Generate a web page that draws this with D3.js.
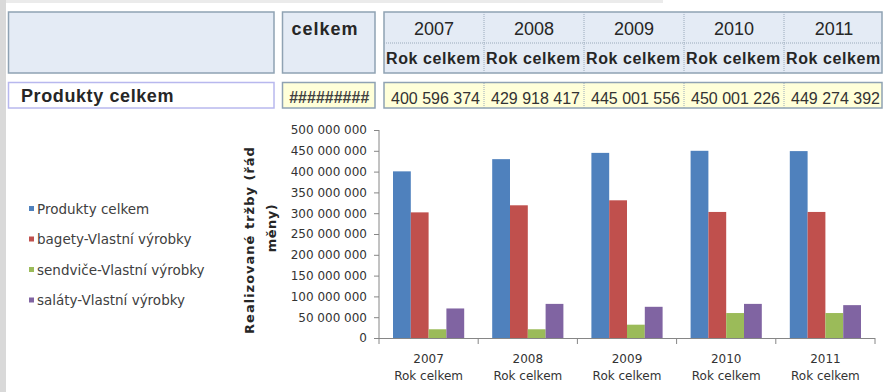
<!DOCTYPE html>
<html>
<head>
<meta charset="utf-8">
<script src="https://cdn.jsdelivr.net/npm/d3@7"></script>
<style>
  body { margin: 0; background: #fff; }
  svg { display: block; }
</style>
</head>
<body>
<div id="chart"></div>
<script>
// values
const years = ["2007", "2008", "2009", "2010", "2011"];
const rowLabel = "Rok celkem";
const seriesNames = ["Produkty celkem", "bagety-Vlastní výrobky", "sendviče-Vlastní výrobky", "saláty-Vlastní výrobky"];
const produkty = [400596374, 429918417, 445001556, 450001226, 449274392];
const bagety = [302000000, 319000000, 331000000, 303000000, 303000000];
const sendvice = [21000000, 21000000, 32000000, 60000000, 60000000];
const salaty = [71000000, 82000000, 75000000, 82000000, 79000000];
const tableValues = ["400 596 374", "429 918 417", "445 001 556", "450 001 226", "449 274 392"];
const colors = ["#4f81bd", "#c0504d", "#9bbb59", "#8064a2"];

const W = 883, H = 392;
const series = [produkty, bagety, sendvice, salaty];

const svg = d3.select("#chart").append("svg")
    .attr("width", W)
    .attr("height", H);

// sheet background strips
svg.append("rect").attr("x", 0).attr("y", 0).attr("width", 6).attr("height", H).attr("fill", "#d9d9d9");
svg.append("rect").attr("x", 6).attr("y", 0).attr("width", 657).attr("height", 3).attr("fill", "#ebebeb");

// ---- pivot table header ----
const tFont = "'Liberation Sans', Arial, sans-serif";
const border = "#8fa2b3";

svg.append("rect").attr("x", 8.5).attr("y", 12).attr("width", 265.5).attr("height", 61)
    .attr("fill", "#e4ebf5").attr("stroke", border).attr("stroke-width", 1.5);
svg.append("rect").attr("x", 282.5).attr("y", 12).attr("width", 92.5).attr("height", 61)
    .attr("fill", "#e4ebf5").attr("stroke", border).attr("stroke-width", 1.5);
svg.append("text").attr("x", 325).attr("y", 35).attr("text-anchor", "middle")
    .attr("font-family", tFont).attr("font-size", 18).attr("font-weight", "bold")
    .attr("letter-spacing", 1).attr("fill", "#262626").text("celkem");

const colX = d3.scaleBand().domain(years).range([384, 884]);

svg.append("rect").attr("x", 384).attr("y", 12).attr("width", 498).attr("height", 61)
    .attr("fill", "#e4ebf5").attr("stroke", border).attr("stroke-width", 1.5);
svg.append("line").attr("x1", 384).attr("x2", 882).attr("y1", 43).attr("y2", 43)
    .attr("stroke", "#9aaabb").attr("stroke-dasharray", "1,1");

const head = svg.append("g").selectAll("g").data(years).join("g");
head.filter((d, i) => i > 0).append("line")
    .attr("x1", d => colX(d)).attr("x2", d => colX(d))
    .attr("y1", 12).attr("y2", 73)
    .attr("stroke", "#9aaabb").attr("stroke-dasharray", "1,1");
head.append("text")
    .attr("x", d => colX(d) + colX.bandwidth() / 2)
    .attr("y", 35).attr("text-anchor", "middle")
    .attr("font-family", tFont).attr("font-size", 18).attr("fill", "#262626")
    .text(d => d);
head.append("text")
    .attr("x", d => colX(d) + 2)
    .attr("y", 64)
    .attr("font-family", tFont).attr("font-size", 16).attr("font-weight", "bold")
    .attr("letter-spacing", 0.6).attr("fill", "#262626")
    .text(rowLabel);

// ---- table value row ----
svg.append("rect").attr("x", 8.5).attr("y", 82.5).attr("width", 265.5).attr("height", 25.5)
    .attr("fill", "#fff").attr("stroke", "#b8b8ee").attr("stroke-width", 1.5);
svg.append("text").attr("x", 21).attr("y", 101.5)
    .attr("font-family", tFont).attr("font-size", 18).attr("font-weight", "bold")
    .attr("letter-spacing", 0.6).attr("fill", "#262626").text(seriesNames[0]);

svg.append("rect").attr("x", 282.5).attr("y", 82.5).attr("width", 92.5).attr("height", 25.5)
    .attr("fill", "#ffffd9").attr("stroke", border).attr("stroke-width", 1.5);
svg.append("text").attr("x", 329).attr("y", 103).attr("text-anchor", "middle")
    .attr("font-family", tFont).attr("font-size", 16).attr("font-weight", "bold")
    .attr("font-style", "italic").attr("fill", "#404040").text("#########");

svg.append("rect").attr("x", 384).attr("y", 82.5).attr("width", 498).attr("height", 25.5)
    .attr("fill", "#ffffd9").attr("stroke", border).attr("stroke-width", 1.5);
const vals = svg.append("g").selectAll("g").data(years).join("g");
vals.filter((d, i) => i > 0).append("line")
    .attr("x1", d => colX(d)).attr("x2", d => colX(d))
    .attr("y1", 83).attr("y2", 108)
    .attr("stroke", "#9aaabb").attr("stroke-dasharray", "1,1");
vals.append("text")
    .attr("x", (d) => colX(d) + colX.bandwidth() - 4)
    .attr("y", 103.5).attr("text-anchor", "end")
    .attr("font-family", tFont).attr("font-size", 16).attr("fill", "#333")
    .text((d, i) => tableValues[i]);

// ---- chart ----
const cFont = "'DejaVu Sans', sans-serif";
const x0 = d3.scaleBand().domain(years).range([379, 875]);
const x1 = d3.scaleBand().domain(d3.range(seriesNames.length))
    .range([14, x0.bandwidth() - 14]);
const y = d3.scaleLinear().domain([0, 500000000]).range([338, 130]);
const fmt = d3.formatLocale({ decimal: ",", thousands: " ", grouping: [3], currency: ["", ""] }).format(",d");

// bars
svg.append("g").selectAll("g")
    .data(years)
    .join("g")
      .attr("transform", d => `translate(${x0(d)},0)`)
    .selectAll("rect")
    .data((d, i) => series.map((s, k) => ({ k: k, v: s[i] })))
    .join("rect")
      .attr("x", d => x1(d.k))
      .attr("y", d => y(d.v))
      .attr("width", x1.bandwidth())
      .attr("height", d => y(0) - y(d.v))
      .attr("fill", d => colors[d.k]);

// y axis
svg.append("g")
    .attr("transform", "translate(379,0)")
    .call(d3.axisLeft(y).tickValues(d3.range(0, 500000001, 50000000)).tickFormat(fmt).tickSize(5).tickPadding(7))
    .call(g => g.select(".domain").attr("stroke", "#868686").attr("d", "M0,130V338"))
    .call(g => g.selectAll(".tick line").attr("stroke", "#868686"))
    .call(g => g.selectAll(".tick text").attr("font-family", cFont).attr("font-size", 12)
        .attr("fill", "#333"));

// x axis
svg.append("line").attr("x1", 379).attr("x2", 875).attr("y1", 338.5).attr("y2", 338.5)
    .attr("stroke", "#868686");
svg.append("g").selectAll("line")
    .data(years.concat(["end"]))
    .join("line")
      .attr("x1", (d, i) => i < years.length ? x0(d) : x0.range()[1])
      .attr("x2", (d, i) => i < years.length ? x0(d) : x0.range()[1])
      .attr("y1", 338).attr("y2", 344)
      .attr("stroke", "#868686");
const xl = svg.append("g").selectAll("g").data(years).join("g")
    .attr("transform", d => `translate(${x0(d) + x0.bandwidth() / 2},0)`);
xl.append("text").attr("y", 363).attr("text-anchor", "middle")
    .attr("font-family", cFont).attr("font-size", 12).attr("fill", "#333").text(d => d);
xl.append("text").attr("y", 380).attr("text-anchor", "middle")
    .attr("font-family", cFont).attr("font-size", 12).attr("fill", "#333").text(rowLabel);

// y axis title
svg.append("text")
    .attr("transform", "translate(249,240) rotate(-90)")
    .attr("text-anchor", "middle").attr("dominant-baseline", "central")
    .attr("font-family", cFont).attr("font-size", 13).attr("font-weight", "bold")
    .attr("letter-spacing", 1).attr("fill", "#262626")
    .text("Realizované  tržby (řád");
svg.append("text")
    .attr("transform", "translate(271,228) rotate(-90)")
    .attr("text-anchor", "middle").attr("dominant-baseline", "central")
    .attr("font-family", cFont).attr("font-size", 13).attr("font-weight", "bold")
    .attr("letter-spacing", 0.5).attr("fill", "#262626")
    .text("měny)");

// legend
const leg = svg.append("g").selectAll("g").data(seriesNames).join("g")
    .attr("transform", (d, i) => `translate(29,${208.5 + i * 30.5})`);
leg.append("rect").attr("x", 0).attr("y", -2.5).attr("width", 5).attr("height", 5)
    .attr("fill", (d, i) => colors[i]);
leg.append("text").attr("x", 8).attr("dominant-baseline", "central")
    .attr("font-family", cFont).attr("font-size", 13.5).attr("fill", "#404040")
    .text(d => d);
</script>
</body>
</html>
